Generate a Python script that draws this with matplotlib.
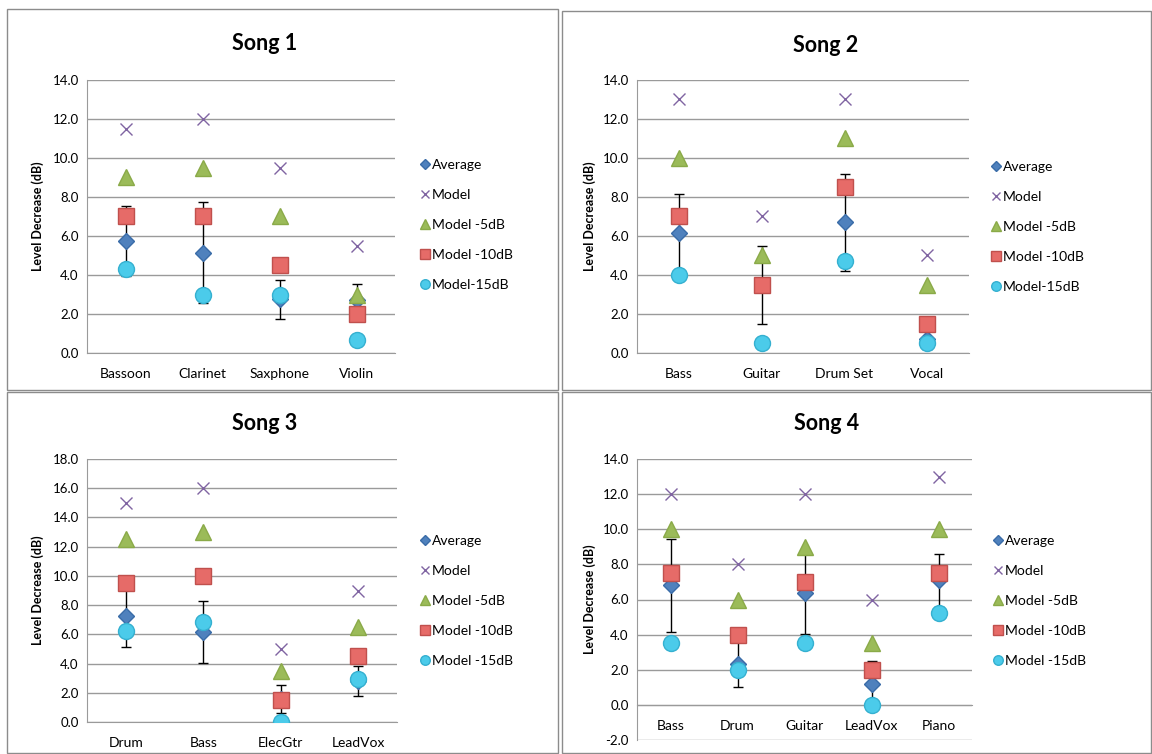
import matplotlib
matplotlib.use("Agg")
import matplotlib.pyplot as plt
from matplotlib.patches import Rectangle

plt.rcParams['font.family'] = ['Lato', 'DejaVu Sans']

W, H = 1152, 754

series_labels = ["Average", "Model", "Model -5dB", "Model -10dB", "Model-15dB"]

# Song 1
s1_cats = ["Bassoon", "Clarinet", "Saxphone", "Violin"]
s1_avg = [5.75, 5.15, 2.75, 2.7]
s1_err = [1.8, 2.6, 1.0, 0.85]
s1_model = [11.5, 12.0, 9.5, 5.5]
s1_m5 = [9.0, 9.5, 7.0, 3.0]
s1_m10 = [7.0, 7.0, 4.5, 2.0]
s1_m15 = [4.3, 3.0, 3.0, 0.65]

# Song 2
s2_cats = ["Bass", "Guitar", "Drum Set", "Vocal"]
s2_avg = [6.15, 3.5, 6.7, 0.7]
s2_err = [2.0, 2.0, 2.5, 0.5]
s2_model = [13.0, 7.0, 13.0, 5.0]
s2_m5 = [10.0, 5.0, 11.0, 3.5]
s2_m10 = [7.0, 3.5, 8.5, 1.5]
s2_m15 = [4.0, 0.5, 4.7, 0.5]

# Song 3
s3_cats = ["Drum", "Bass", "ElecGtr", "LeadVox"]
s3_avg = [7.25, 6.15, 1.6, 2.8]
s3_err = [2.1, 2.1, 0.95, 1.05]
s3_model = [15.0, 16.0, 5.0, 9.0]
s3_m5 = [12.5, 13.0, 3.5, 6.5]
s3_m10 = [9.5, 10.0, 1.5, 4.5]
s3_m15 = [6.25, 6.85, 0.0, 2.95]

# Song 4
s4_cats = ["Bass", "Drum", "Guitar", "LeadVox", "Piano"]
s4_avg = [6.8, 2.3, 6.35, 1.2, 7.1]
s4_err = [2.65, 1.3, 2.3, 1.3, 1.5]
s4_model = [12.0, 8.0, 12.0, 6.0, 13.0]
s4_m5 = [10.0, 6.0, 9.0, 3.5, 10.0]
s4_m10 = [7.5, 4.0, 7.0, 2.0, 7.5]
s4_m15 = [3.5, 2.0, 3.5, 0.0, 5.25]

styles = [
    dict(marker="D", color="#4F81BD", ms=8.5, mec="#3A6CA8"),
    dict(marker="x", color="#8064A2", ms=9, mew=1.0),
    dict(marker="^", color="#9BBB59", ms=11, mec="#8AAA48"),
    dict(marker="s", color="#E66B68", ms=11, mec="#C0504D"),
    dict(marker="o", color="#4BCBEA", ms=11.5, mec="#35B0D0"),
]


def px(l, t, r, b):
    return [l / W, 1 - b / H, (r - l) / W, (b - t) / H]


fig = plt.figure(figsize=(W / 100, H / 100), dpi=100)
fig.patch.set_facecolor("white")

# panel borders
for (l, t, r, b) in [(7, 9, 558, 390), (562, 11, 1151, 390),
                     (7, 392, 558, 753), (562, 392, 1151, 753)]:
    fig.add_artist(Rectangle((l / W, 1 - b / H), (r - l) / W, (b - t) / H,
                             transform=fig.transFigure, fill=False,
                             ec="#8C8C8C", lw=1.0))

panels = [
    ("Song 1", s1_cats, s1_avg, s1_err, [s1_model, s1_m5, s1_m10, s1_m15],
     (87, 80, 395, 353), (0, 14), (265, 43), 38, (421, 159), "Model-15dB"),
    ("Song 2", s2_cats, s2_avg, s2_err, [s2_model, s2_m5, s2_m10, s2_m15],
     (637, 80, 969, 353), (0, 14), (826, 45), 590, (992, 161), "Model-15dB"),
    ("Song 3", s3_cats, s3_avg, s3_err, [s3_model, s3_m5, s3_m10, s3_m15],
     (87, 459, 397, 722), (0, 18), (265, 423), 38, (421, 535), "Model -15dB"),
    ("Song 4", s4_cats, s4_avg, s4_err, [s4_model, s4_m5, s4_m10, s4_m15],
     (637, 459, 972, 740), (-2, 14), (827, 423), 590, (994, 535), "Model -15dB"),
]

for title, cats, avg, err, models, box, ylim, tpos, ylx, lpos, lab15 in panels:
    ax = fig.add_axes(px(*box))
    x = list(range(len(cats)))
    ax.errorbar(x, avg, yerr=err, fmt="none", ecolor="black", elinewidth=1.0,
                capsize=3.5, capthick=1.0, zorder=2)
    handles = []
    h = ax.plot(x, avg, ls="none", zorder=3, **styles[0])[0]
    handles.append(h)
    for vals, st in zip(models, styles[1:]):
        handles.append(ax.plot(x, vals, ls="none", zorder=3, **st)[0])
    labels = series_labels[:4] + [lab15]

    ax.set_xlim(-0.5, len(cats) - 0.5)
    ax.set_ylim(*ylim)
    ax.set_yticks(range(ylim[0], ylim[1] + 1, 2))
    ax.set_yticklabels([f"{v:.1f}" for v in range(ylim[0], ylim[1] + 1, 2)],
                       fontsize=9.5)
    ax.set_xticks(x)
    ax.set_xticklabels(cats, fontsize=10)
    ax.tick_params(axis="x", length=0, pad=11)
    ax.tick_params(axis="y", length=0, pad=6)
    ax.grid(axis="y", color="#9A9A9A", lw=1.0)
    ax.set_axisbelow(True)
    for s in ["top", "right"]:
        ax.spines[s].set_visible(False)
    ax.spines["left"].set_color("#9A9A9A")
    ax.spines["bottom"].set_color("#9A9A9A")
    # category axis crosses the value axis at 0
    ax.spines["bottom"].set_position(("data", 0))

    fig.text(tpos[0] / W, 1 - tpos[1] / H, title, ha="center", va="center",
             fontsize=15.5, fontweight="bold")
    cy = (box[1] + box[3]) / 2
    fig.text(ylx / W, 1 - cy / H, "Level Decrease (dB)", rotation=90,
             ha="center", va="center", fontsize=9, fontweight="bold")

    fig.legend(handles, labels, loc="upper left",
               bbox_to_anchor=(lpos[0] / W, 1 - lpos[1] / H),
               frameon=False, fontsize=10, markerscale=0.6,
               handlelength=0.6, handletextpad=0.2, labelspacing=1.3,
               borderaxespad=0, borderpad=0)

fig.savefig("out.png", dpi=100)
